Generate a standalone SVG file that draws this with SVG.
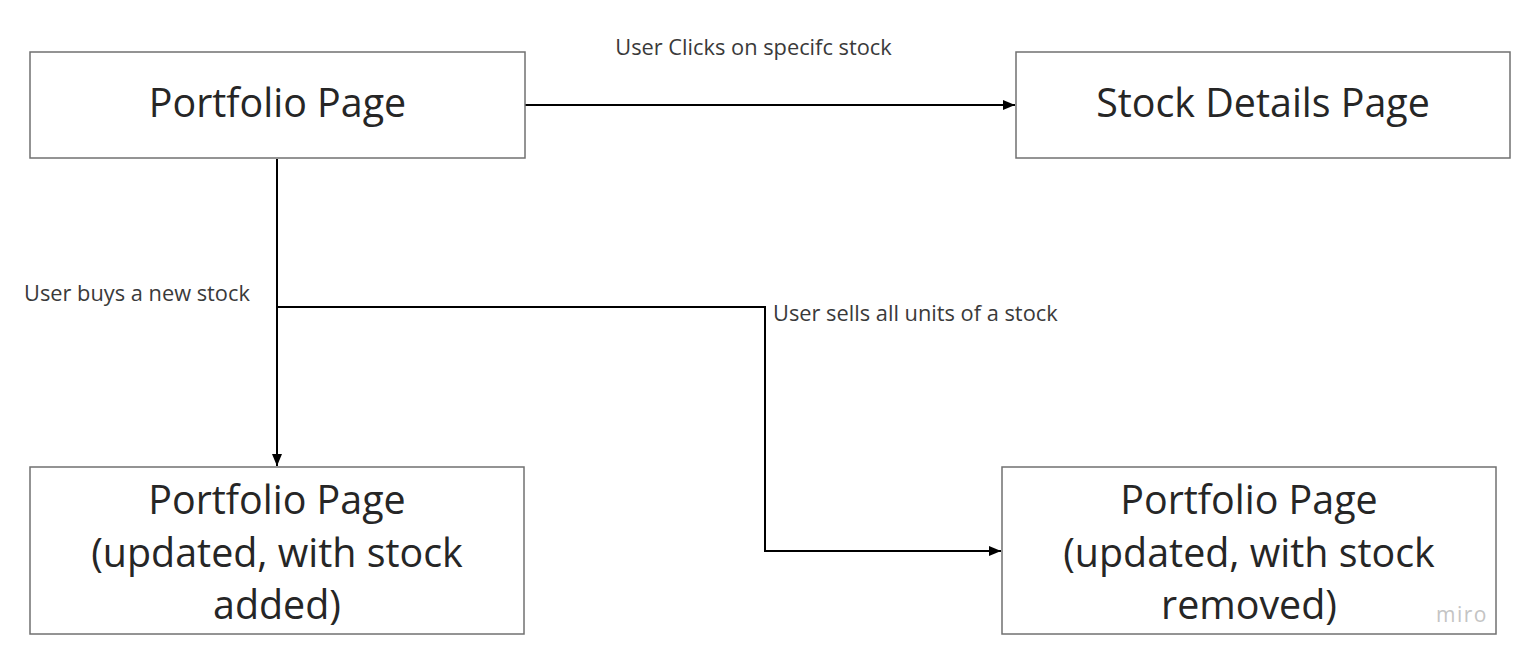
<svg xmlns="http://www.w3.org/2000/svg" width="1520" height="657" viewBox="0 0 1520 657">
  <style>
    .box { fill: #ffffff; stroke: #707070; stroke-width: 1.5; }
    .title { font-family: "Open Sans", "Liberation Sans", sans-serif; font-size: 39.4px; fill: #262626; text-anchor: middle; }
    .lbl { font-family: "Open Sans", "Liberation Sans", sans-serif; font-size: 21.8px; fill: #3a3a3a; }
    .conn { fill: none; stroke: #000000; stroke-width: 2; }
    .wm { font-family: "Open Sans", "Liberation Sans", sans-serif; font-size: 21px; fill: #c4c4c4; letter-spacing: 1.5px; }
  </style>
  <defs>
    <marker id="arrow" viewBox="0 0 12 10" refX="12" refY="5" markerWidth="12" markerHeight="10" markerUnits="userSpaceOnUse" orient="auto">
      <path d="M0,0 L12,5 L0,10 Z" fill="#000000"/>
    </marker>
  </defs>
  <rect width="1520" height="657" fill="#ffffff"/>

  <g id="connectors">
    <path class="conn" d="M525,105 L1015,105" marker-end="url(#arrow)"/>
    <path class="conn" d="M277,159 L277,466" marker-end="url(#arrow)"/>
    <path class="conn" d="M277,307 L765,307 L765,551 L1001,551" marker-end="url(#arrow)"/>
    <text class="lbl" x="753.5" y="55" text-anchor="middle">User Clicks on specifc stock</text>
    <text class="lbl" x="24" y="301">User buys a new stock</text>
    <text class="lbl" x="773" y="321">User sells all units of a stock</text>
  </g>

  <g id="portfolio-page">
    <rect class="box" x="30" y="52" width="495" height="106"/>
    <text class="title" x="277.5" y="117">Portfolio Page</text>
  </g>

  <g id="stock-details-page">
    <rect class="box" x="1016" y="52" width="494" height="106"/>
    <text class="title" x="1263" y="117">Stock Details Page</text>
  </g>

  <g id="portfolio-added">
    <rect class="box" x="30" y="467" width="494" height="167"/>
    <text class="title" x="277" y="514">Portfolio Page</text>
    <text class="title" x="277" y="567">(updated, with stock</text>
    <text class="title" x="277" y="619">added)</text>
  </g>

  <g id="portfolio-removed">
    <rect class="box" x="1002" y="467" width="494" height="167"/>
    <text class="title" x="1249" y="514">Portfolio Page</text>
    <text class="title" x="1249" y="567">(updated, with stock</text>
    <text class="title" x="1249" y="619">removed)</text>
  </g>

  <text class="wm" x="1436" y="622">miro</text>
</svg>
